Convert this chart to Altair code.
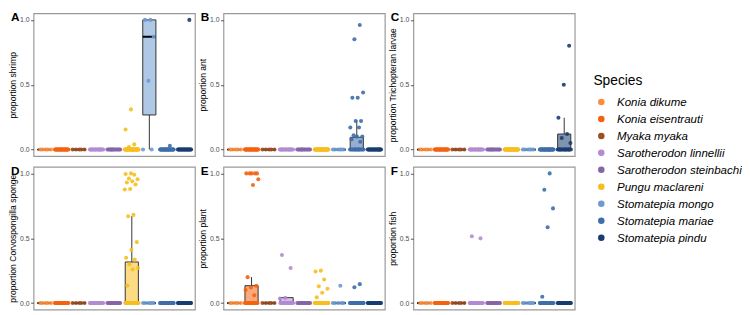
import json
import altair as alt
import pandas as pd

SPECIES = [
    "Konia dikume", "Konia eisentrauti", "Myaka myaka",
    "Sarotherodon linnellii", "Sarotherodon steinbachi", "Pungu maclareni",
    "Stomatepia mongo", "Stomatepia mariae", "Stomatepia pindu",
]
COLORS = ["#FD8D3C", "#F5620F", "#9C4F23", "#B38BD3", "#8466A6",
          "#F8BE1E", "#6C9BD2", "#3D6EA8", "#173D70"]
N_FISH = [5, 26, 5, 18, 14, 40, 6, 30, 22]

PANEL_LETTERS = ["A", "B", "C", "D", "E", "F"]
PANEL_TITLES = ["proportion shrimp", "proportion ant",
                "proportion Trichopteran larvae",
                "proportion Corvospongilla sponge",
                "proportion plant", "proportion fish"]
LEGEND_TITLE = ["Species"]

# non-zero observations per panel (remaining fish are 0)
SHRIMP = {
    "Pungu maclareni": [0.31, 0.155, 0.04, 0.02],
    "Stomatepia mongo": [1.0, 1.0, 0.87, 0.53],
    "Stomatepia mariae": [0.03],
    "Stomatepia pindu": [1.0],
}
ANT = {
    "Stomatepia mariae": [0.96, 0.85, 0.44, 0.40, 0.40, 0.22, 0.22, 0.17,
                          0.17, 0.11, 0.10, 0.10, 0.08, 0.06],
}
TRICH = {
    "Stomatepia pindu": [0.80, 0.50, 0.245, 0.12, 0.09, 0.05],
}
SPONGE = {
    "Pungu maclareni": [1.0, 0.995, 0.99, 0.96, 0.955, 0.94, 0.93, 0.915,
                        0.88, 0.875, 0.68, 0.67, 0.47, 0.41, 0.35, 0.335,
                        0.30, 0.27, 0.26, 0.135],
}
PLANT = {
    "Konia eisentrauti": [1.0, 1.0, 1.0, 1.0, 1.0, 0.955, 0.91, 0.20, 0.134,
                          0.12, 0.10, 0.06],
    "Sarotherodon linnellii": [0.37, 0.27, 0.04, 0.035],
    "Pungu maclareni": [0.25, 0.243, 0.182, 0.129, 0.11, 0.08, 0.044],
    "Stomatepia mongo": [0.134],
    "Stomatepia mariae": [0.146, 0.122],
}
FISH = {
    "Sarotherodon linnellii": [0.516, 0.499],
    "Stomatepia mariae": [1.0, 0.874, 0.73, 0.584, 0.049],
}
PANEL_VALUES = [SHRIMP, ANT, TRICH, SPONGE, PLANT, FISH]

# box statistics (all other boxes sit at 0)
BOX_PANEL = ["A", "B", "C", "D", "E", "E"]
BOX_SPECIES = ["Stomatepia mongo", "Stomatepia mariae", "Stomatepia pindu",
               "Pungu maclareni", "Konia eisentrauti", "Sarotherodon linnellii"]
BOX_LOW = [0.0, 0.0, 0.0, 0.0, 0.0, 0.0]
BOX_Q1 = [0.267, 0.0, 0.0, 0.0, 0.0, 0.0]
BOX_MED = [0.87, 0.0, 0.0, 0.0, 0.0, 0.0]
BOX_Q3 = [1.0, 0.095, 0.12, 0.317, 0.134, 0.042]
BOX_HIGH = [1.0, 0.225, 0.245, 0.67, 0.20, 0.045]

# ---- tables ----
rows = []
for letter, vals in zip(PANEL_LETTERS, PANEL_VALUES):
    for sp, n in zip(SPECIES, N_FISH):
        nz = vals.get(sp, [])
        for v in nz:
            rows.append({"panel": letter, "species": sp, "value": v})
        for _ in range(n - len(nz)):
            rows.append({"panel": letter, "species": sp, "value": 0.0})
points = pd.DataFrame(rows)

brows = []
for letter in PANEL_LETTERS:
    for sp in SPECIES:
        r = {"panel": letter, "boxsp": sp, "lo": 0.0, "q1": 0.0,
             "med": 0.0, "q3": 0.0, "hi": 0.0}
        for i, (bp, bs) in enumerate(zip(BOX_PANEL, BOX_SPECIES)):
            if bp == letter and bs == sp:
                r.update(lo=BOX_LOW[i], q1=BOX_Q1[i], med=BOX_MED[i],
                         q3=BOX_Q3[i], hi=BOX_HIGH[i])
        brows.append(r)
boxes = pd.DataFrame(brows)

SP_JS = json.dumps(SPECIES)
XSCALE = alt.Scale(domain=[0.4, 9.6], nice=False, zero=False)
YSCALE = alt.Scale(domain=[-0.05, 1.05], nice=False, zero=False)
W, H = 164, 145


def cscale():
    return alt.Scale(domain=SPECIES, range=COLORS)


def yaxis(title):
    return alt.Axis(title=title, values=[0, 0.5, 1], format=".1f")


def panel(letter, title):
    pts = points[points.panel == letter]
    bx = boxes[boxes.panel == letter]
    bbase = alt.Chart(bx).transform_calculate(
        si=f"indexof({SP_JS}, datum.boxsp) + 1"
    ).transform_calculate(xl="datum.si - 0.375", xr="datum.si + 0.375")
    rect = bbase.mark_rect(stroke="#333333", strokeWidth=1, fillOpacity=0.55).encode(
        x=alt.X("xl:Q", scale=XSCALE, axis=None), x2="xr:Q",
        y=alt.Y("q1:Q", scale=YSCALE, axis=yaxis(title)), y2="q3:Q",
        fill=alt.Fill("boxsp:N", scale=cscale(), legend=None),
    )
    wh_hi = bbase.mark_rule(color="#333333", strokeWidth=1).encode(
        x=alt.X("si:Q", scale=XSCALE, axis=None),
        y=alt.Y("q3:Q", scale=YSCALE, axis=yaxis(title)), y2="hi:Q",
    )
    wh_lo = bbase.mark_rule(color="#333333", strokeWidth=1).encode(
        x=alt.X("si:Q", scale=XSCALE, axis=None),
        y=alt.Y("lo:Q", scale=YSCALE, axis=yaxis(title)), y2="q1:Q",
    )
    med = bbase.mark_rule(color="black", strokeWidth=2).encode(
        x=alt.X("xl:Q", scale=XSCALE, axis=None), x2="xr:Q",
        y=alt.Y("med:Q", scale=YSCALE, axis=yaxis(title)),
    )
    dots = alt.Chart(pts).transform_calculate(
        si=f"indexof({SP_JS}, datum.species) + 1"
    ).transform_window(
        rn="row_number()", groupby=["species"]
    ).transform_calculate(
        xj="datum.si + ((datum.rn * 0.6180339887 + datum.si * 0.137) % 1 - 0.5) * 0.8"
    ).mark_circle(size=17, opacity=0.9).encode(
        x=alt.X("xj:Q", scale=XSCALE, axis=None),
        y=alt.Y("value:Q", scale=YSCALE, axis=yaxis(title)),
        color=alt.Color("species:N", scale=cscale(), legend=None),
    )
    lab = alt.Chart(pd.DataFrame({"t": [letter]})).mark_text(
        fontSize=12, fontWeight="bold", font="Liberation Sans", color="black",
        align="left", baseline="alphabetic",
    ).encode(text="t:N", x=alt.value(-23), y=alt.value(8))
    return alt.layer(rect, wh_hi, wh_lo, med, dots, lab).properties(width=W, height=H)


panels = [panel(l, t) for l, t in zip(PANEL_LETTERS, PANEL_TITLES)]
grid = alt.concat(*panels, columns=3, spacing={"row": 11, "column": 29},
                  bounds="flush")

# hand-built legend (species order, same colour scale)
leg_df = pd.DataFrame({"species": SPECIES})
LEG_Y = alt.Scale(domain=SPECIES, range=[90, 228], padding=0)
leg_dots = alt.Chart(leg_df).mark_circle(size=44, opacity=1).encode(
    x=alt.value(9),
    y=alt.Y("species:N", scale=LEG_Y, axis=None, sort=SPECIES),
    color=alt.Color("species:N", scale=cscale(), legend=None),
)
leg_text = alt.Chart(leg_df).mark_text(
    align="left", baseline="middle", font="Liberation Sans", fontSize=11.7,
    fontStyle="italic", color="black",
).encode(
    x=alt.value(25),
    y=alt.Y("species:N", scale=LEG_Y, axis=None, sort=SPECIES),
    text="species:N",
)
leg_title = alt.Chart(pd.DataFrame({"t": LEGEND_TITLE})).mark_text(
    align="left", baseline="middle", font="Liberation Sans", fontSize=14,
    color="black",
).encode(x=alt.value(1), y=alt.value(69), text="t:N")
legend = alt.layer(leg_dots, leg_text, leg_title).properties(
    width=150, height=H * 2 + 11,
    view=alt.ViewBackground(stroke="transparent", strokeWidth=0),
)

chart = alt.hconcat(grid, legend, spacing=17).properties(
    padding=0
).configure_view(
    stroke="#9a9a9a", strokeWidth=1.2
).configure_axis(
    grid=False, domain=False, tickColor="#555555", tickSize=3, tickWidth=1,
    labelFont="Liberation Sans", labelFontSize=7, labelColor="#4d4d4d",
    labelPadding=1.5, titleFont="Liberation Sans", titleFontSize=8.7,
    titleFontWeight="normal", titleColor="black", titlePadding=2,
)

chart.save("out.html", embed_options={"renderer": "svg", "actions": False})
